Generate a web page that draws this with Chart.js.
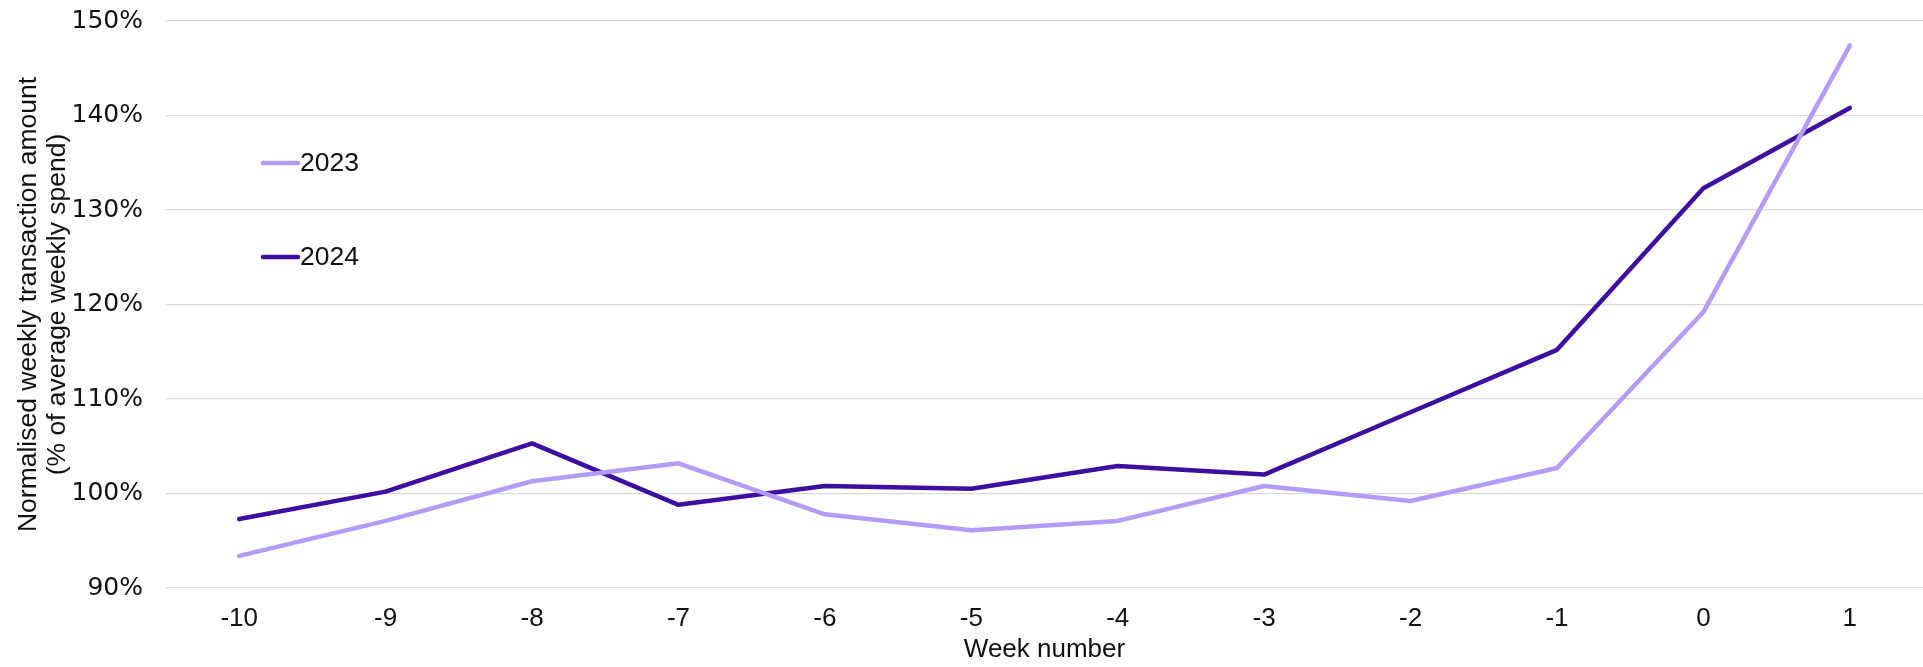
<!DOCTYPE html>
<html>
<head>
<meta charset="utf-8">
<script src="https://cdn.jsdelivr.net/npm/chart.js@4/dist/chart.umd.min.js"></script>
<style>
  html, body { margin: 0; padding: 0; background: #ffffff; }
  #wrap { width: 1923px; height: 667px; }
</style>
</head>
<body>
<div id="wrap"><canvas id="chart" width="1923" height="667"></canvas></div>
<script>
// Week numbers relative to the event week
const weeks = ['-10', '-9', '-8', '-7', '-6', '-5', '-4', '-3', '-2', '-1', '0', '1'];

// Weekly transaction amount as % of average weekly spend
const spend2023 = [93.4, 97.1, 101.3, 103.2, 97.8, 96.1, 97.1, 100.8, 99.2, 102.7, 119.2, 147.4];
const spend2024 = [97.3, 100.2, 105.3, 98.8, 100.8, 100.5, 102.9, 102.0, 108.6, 115.2, 132.3, 140.8];

const seriesNames = ['2023', '2024'];
const seriesColors = ['#b49cf6', '#3d0fa0'];

const yTickValues = [90, 100, 110, 120, 130, 140, 150];
const yTitle = ['Normalised weekly transaction amount', '(% of average weekly spend)'];
const xTitle = 'Week number';

const SANS = '"Liberation Sans", Arial, sans-serif';
const TICK_SANS = '"DejaVu Sans", sans-serif';

// Legend stacked vertically inside the plot, near the top-left corner
const insideLegend = {
  id: 'insideLegend',
  afterDatasetsDraw(chart) {
    const { ctx, chartArea } = chart;
    const x0 = chartArea.left + 97;
    const rows = [chartArea.top + 142, chartArea.top + 236];
    ctx.save();
    ctx.font = '26.5px ' + SANS;
    ctx.textBaseline = 'middle';
    ctx.textAlign = 'left';
    chart.data.datasets.forEach((ds, i) => {
      const y = rows[i];
      ctx.strokeStyle = ds.borderColor;
      ctx.lineWidth = 4.5;
      ctx.lineCap = 'round';
      ctx.beginPath();
      ctx.moveTo(x0, y);
      ctx.lineTo(x0 + 35, y);
      ctx.stroke();
      ctx.fillStyle = '#111111';
      ctx.fillText(ds.label, x0 + 37, y + 1);
    });
    ctx.restore();
  }
};

new Chart(document.getElementById('chart'), {
  type: 'line',
  data: {
    labels: weeks,
    datasets: [
      {
        label: seriesNames[0],
        data: spend2023,
        borderColor: seriesColors[0],
        backgroundColor: seriesColors[0],
        borderWidth: 4.5,
        pointRadius: 0,
        tension: 0,
        borderCapStyle: 'round',
        borderJoinStyle: 'round'
      },
      {
        label: seriesNames[1],
        data: spend2024,
        borderColor: seriesColors[1],
        backgroundColor: seriesColors[1],
        borderWidth: 4.5,
        pointRadius: 0,
        tension: 0,
        borderCapStyle: 'round',
        borderJoinStyle: 'round'
      }
    ]
  },
  options: {
    responsive: false,
    animation: false,
    layout: { padding: { top: 21, right: 0, bottom: 0, left: 0 } },
    plugins: {
      legend: { display: false },
      tooltip: { enabled: false }
    },
    scales: {
      x: {
        offset: true,
        grid: { display: false, drawTicks: false },
        border: { display: false },
        ticks: {
          color: '#111111',
          font: { family: SANS, size: 26 },
          padding: 15,
          maxRotation: 0,
          autoSkip: false
        },
        title: {
          display: true,
          text: xTitle,
          color: '#111111',
          font: { family: SANS, size: 26 },
          padding: { top: 0, bottom: 2 }
        },
        afterFit(axis) {
          axis.height = 79;
          axis.paddingLeft = 0;
          axis.paddingRight = 0;
        }
      },
      y: {
        min: 90,
        max: 150,
        afterBuildTicks(axis) {
          axis.ticks = yTickValues.map(v => ({ value: v }));
        },
        grid: { color: '#d9d9d9', lineWidth: 1.3, drawTicks: false },
        border: { display: false },
        ticks: {
          color: '#111111',
          font: { family: TICK_SANS, size: 25 },
          padding: 23,
          callback: v => v + '%'
        },
        title: {
          display: true,
          text: yTitle,
          color: '#111111',
          font: { family: SANS, size: 26.5, lineHeight: 1.1 },
          padding: { top: 14, bottom: 0 }
        },
        afterFit(axis) {
          axis.width = 166;
          axis.paddingTop = 0;
          axis.paddingBottom = 0;
        }
      }
    }
  },
  plugins: [insideLegend]
});
</script>
</body>
</html>
